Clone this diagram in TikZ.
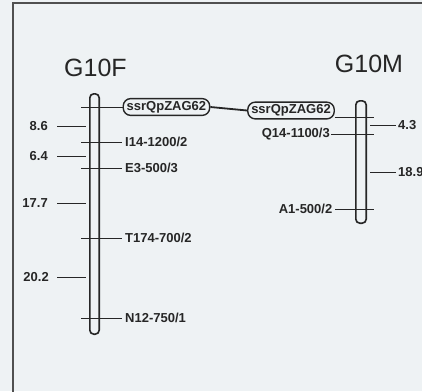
\documentclass[tikz,border=0pt]{standalone}
\usepackage{fontspec}
\setmainfont{Liberation Sans}
\usetikzlibrary{positioning}
\definecolor{Ink}{HTML}{262626}
\definecolor{Frame}{HTML}{505050}
\definecolor{Paper}{HTML}{EEF2F4}
\tikzset{
    chrom/.style={draw=Ink, line width=1.6pt, rounded corners=4pt, inner sep=0pt},
    tick/.style={draw=Ink, line width=1pt},
    lbl/.style={text=Ink, inner sep=2pt, font=\bfseries\fontsize{13}{15}\selectfont},
    title/.style={text=Ink, inner sep=0pt, font=\fontsize{25}{28}\selectfont},
    ssrbox/.style={lbl, draw=Ink, line width=1.4pt, rounded corners=7.5pt, inner xsep=3.5pt, inner ysep=2.5pt},
    link/.style={draw=Ink, line width=1.8pt},
}
\begin{document}
\begin{tikzpicture}[x=1pt, y=-1pt]

    % Sfondo e cornice
    \fill[Paper] (0,0) rectangle (422,391);
    \useasboundingbox (0,0) rectangle (422,391);
    \draw[Frame, line width=1.4pt] (13,400) -- (13,3) -- (430,3);

    % Titoli
    \node[title] (tF) at (95.5,67.5) {G10F};
    \node[title] (tM) at (369,64) {G10M};

    % Cromosomi
    \node[chrom, minimum width=9.4, minimum height=240.4] (barF) at (94.5,214) {};
    \node[chrom, minimum width=10.4, minimum height=122.4] (barM) at (361,162) {};

    % Riferimenti orizzontali
    \coordinate (fL) at (81,0);
    \coordinate (dA) at (57,0);
    \coordinate (dB) at (86,0);
    \coordinate (mR) at (374,0);
    \coordinate (eA) at (370,0);
    \coordinate (eB) at (396,0);

    % Marcatori G10F
    \node[ssrbox, anchor=west] (ssrF) at (122.5,107) {ssrQpZAG62};
    \node[lbl, anchor=west, inner xsep=3pt] (i14) at (122,142) {I14-1200/2};
    \node[lbl, anchor=west, inner xsep=3pt] (e3) at (122,168) {E3-500/3};
    \node[lbl, anchor=west, inner xsep=3pt] (t174) at (122,238) {T174-700/2};
    \node[lbl, anchor=west, inner xsep=3pt] (n12) at (122,318) {N12-750/1};
    \draw[tick] (fL |- ssrF.west) -- (ssrF.west);
    \draw[tick] (fL |- i14.west) -- (i14.west);
    \draw[tick] (fL |- e3.west) -- (e3.west);
    \draw[tick] (fL |- t174.west) -- (t174.west);
    \draw[tick] (fL |- n12.west) -- (n12.west);

    % Distanze G10F
    \node[lbl, anchor=east] (d86) at (50,126) {8.6};
    \node[lbl, anchor=east] (d64) at (50,156) {6.4};
    \node[lbl, anchor=east] (d177) at (50,203) {17.7};
    \node[lbl, anchor=east] (d202) at (51,277) {20.2};
    \draw[tick] (dA |- d86.east) -- (dB |- d86.east);
    \draw[tick] (dA |- d64.east) -- (dB |- d64.east);
    \draw[tick] (dA |- d177.east) -- (dB |- d177.east);
    \draw[tick] (dA |- d202.east) -- (dB |- d202.east);

    % Marcatori G10M
    \node[ssrbox] (ssrM) at (291,110.5) {ssrQpZAG62};
    \node[lbl, anchor=east, inner xsep=1pt] (q14) at (331,134) {Q14-1100/3};
    \node[lbl, anchor=east, inner xsep=2.5pt] (a1) at (335,209) {A1-500/2};
    \coordinate (mR1) at (374,117);
    \draw[tick] (mR1 -| ssrM.east) -- (mR1);
    \draw[tick] (q14.east) -- (mR |- q14.east);
    \draw[tick] (a1.east) -- (mR |- a1.east);

    % Distanze G10M
    \node[lbl, anchor=west] (d43) at (396,125) {4.3};
    \node[lbl, anchor=west] (d189) at (396,172) {18.9};
    \draw[tick] (eA |- d43.west) -- (d43.west);
    \draw[tick] (eA |- d189.west) -- (d189.west);

    % Collegamento tra i due gruppi
    \draw[link] (ssrF.east) -- (ssrM.west);

\end{tikzpicture}
\end{document}
